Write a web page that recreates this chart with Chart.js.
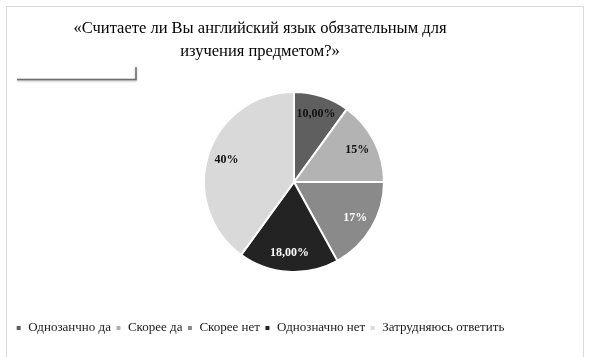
<!DOCTYPE html>
<html>
<head>
<meta charset="utf-8">
<script src="https://cdn.jsdelivr.net/npm/chart.js@4/dist/chart.umd.min.js"></script>
<style>
html,body{margin:0;padding:0;background:#fff;}
canvas{display:block;}
</style>
</head>
<body>
<canvas id="c" width="590" height="357"></canvas>
<script>
const titleLines = ["«Считаете ли Вы английский язык обязательным для", "изучения предметом?»"];
const categories = ["Однозанчно да", "Скорее да", "Скорее нет", "Однозначно нет", "Затрудняюсь ответить"];
const values = [10, 15, 17, 18, 40];
const valueLabels = ["10,00%", "15%", "17%", "18,00%", "40%"];
const sliceColors = ["#5f5f5f", "#b3b3b3", "#8a8a8a", "#232323", "#d9d9d9"];
const labelColors = ["#111111", "#111111", "#ffffff", "#ffffff", "#111111"];

const SERIF = "'Liberation Serif', 'Times New Roman', serif";
Chart.defaults.font.family = SERIF;

function makeSpacer(position, size) {
  return {
    position: position, weight: 0, fullSize: false,
    options: {},
    isHorizontal() { return position === 'top' || position === 'bottom'; },
    update(maxW, maxH) {
      if (this.isHorizontal()) { this.width = maxW; this.height = size; }
      else { this.width = size; this.height = maxH; }
      return {};
    },
    getPadding() { return { left: 0, top: 0, right: 0, bottom: 0 }; },
    draw() {}
  };
}

// invisible spacer boxes that place the pie where the reference has it
const spacerPlugin = {
  id: 'spacer',
  beforeInit(chart) {
    Chart.layouts.addBox(chart, makeSpacer('left', 68));
    Chart.layouts.addBox(chart, makeSpacer('bottom', 44));
  }
};

const frameAndDecor = {
  id: 'frameDecor',
  beforeDraw(chart) {
    const ctx = chart.ctx;
    ctx.save();
    ctx.fillStyle = '#ffffff';
    ctx.fillRect(0, 0, chart.width, chart.height);
    ctx.strokeStyle = '#d9d9d9';
    ctx.lineWidth = 1;
    ctx.beginPath();
    ctx.moveTo(6.5, 360); ctx.lineTo(6.5, 6.5); ctx.lineTo(583.5, 6.5); ctx.lineTo(583.5, 360);
    ctx.stroke();
    // decorative stroke at top-left
    ctx.shadowColor = 'rgba(0,0,0,0.35)';
    ctx.shadowBlur = 2;
    ctx.shadowOffsetY = 1;
    ctx.strokeStyle = '#6e6e6e';
    ctx.lineWidth = 1.5;
    ctx.beginPath();
    ctx.moveTo(17, 79.5); ctx.lineTo(136, 79.5); ctx.lineTo(136, 67);
    ctx.stroke();
    ctx.restore();
  }
};

const sliceLabels = {
  id: 'sliceLabels',
  afterDatasetsDraw(chart) {
    const ctx = chart.ctx;
    const meta = chart.getDatasetMeta(0);
    ctx.save();
    ctx.font = "bold 12px " + SERIF;
    ctx.textAlign = 'center';
    ctx.textBaseline = 'middle';
    meta.data.forEach((arc, i) => {
      const p = arc.getProps(['x', 'y', 'startAngle', 'endAngle', 'outerRadius'], true);
      const mid = (p.startAngle + p.endAngle) / 2;
      const r = p.outerRadius * 0.79;
      ctx.fillStyle = labelColors[i];
      ctx.fillText(valueLabels[i], p.x + Math.cos(mid) * r, p.y + Math.sin(mid) * r);
    });
    ctx.restore();
  }
};

new Chart(document.getElementById('c'), {
  type: 'pie',
  data: {
    labels: categories,
    datasets: [{
      data: values,
      backgroundColor: sliceColors,
      borderColor: '#ffffff',
      borderWidth: 2
    }]
  },
  options: {
    responsive: false,
    devicePixelRatio: 1,
    animation: false,
    layout: { padding: { left: 4, right: 74, top: 0, bottom: 12.5 } },
    plugins: {
      tooltip: { enabled: false },
      title: {
        display: true,
        text: titleLines,
        color: '#000000',
        font: { family: SERIF, size: 16.5, weight: 'normal', lineHeight: 1.394 },
        padding: { top: 17.5, bottom: 27.5 }
      },
      legend: {
        position: 'bottom',
        align: 'center',
        labels: {
          color: '#1a1a1a',
          font: { family: SERIF, size: 13 },
          boxWidth: 6,
          boxHeight: 6,
          padding: 4.5
        }
      }
    }
  },
  plugins: [spacerPlugin, frameAndDecor, sliceLabels]
});
</script>
</body>
</html>
